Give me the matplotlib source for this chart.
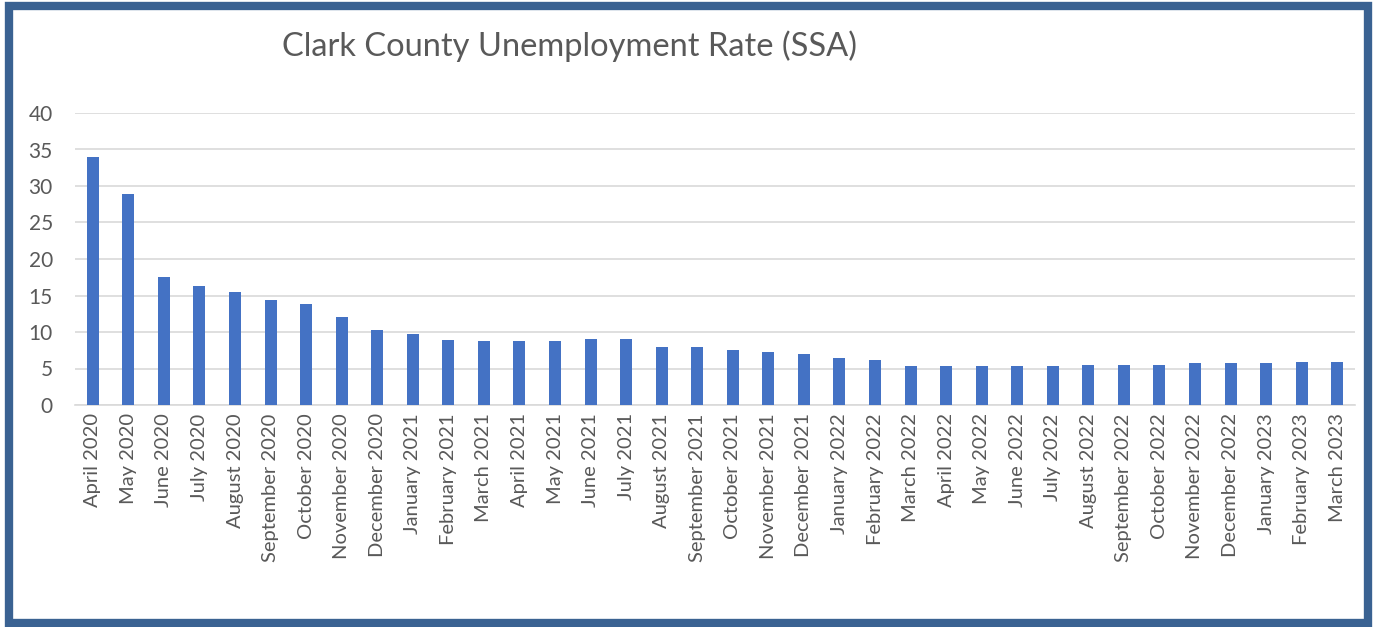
import matplotlib.pyplot as plt
from matplotlib.patches import Rectangle

months = ["April 2020", "May 2020", "June 2020", "July 2020", "August 2020",
          "September 2020", "October 2020", "November 2020", "December 2020",
          "January 2021", "February 2021", "March 2021", "April 2021", "May 2021",
          "June 2021", "July 2021", "August 2021", "September 2021", "October 2021",
          "November 2021", "December 2021", "January 2022", "February 2022",
          "March 2022", "April 2022", "May 2022", "June 2022", "July 2022",
          "August 2022", "September 2022", "October 2022", "November 2022",
          "December 2022", "January 2023", "February 2023", "March 2023"]
rates = [34.0, 28.9, 17.5, 16.3, 15.5, 14.4, 13.8, 12.0, 10.3, 9.7, 8.9, 8.7,
         8.8, 8.8, 9.0, 9.0, 8.0, 8.0, 7.6, 7.3, 7.0, 6.5, 6.1, 5.4,
         5.3, 5.3, 5.3, 5.3, 5.5, 5.5, 5.5, 5.7, 5.7, 5.7, 5.9, 5.9]

plt.rcParams['font.family'] = ['Lato', 'DejaVu Sans']
text_color = '#595959'

fig = plt.figure(figsize=(13.77, 6.27), dpi=100)
ax = fig.add_axes([75 / 1377, 1 - 405 / 627, 1280 / 1377, 292 / 627])

x = range(len(months))
ax.bar(x, rates, width=0.34, color='#4472C4', zorder=3)

ax.set_xlim(-0.5, len(months) - 0.5)
ax.set_ylim(0, 40)
ax.set_yticks(range(0, 41, 5))
ax.set_xticks(list(x))
ax.set_xticklabels(months, rotation=90)
ax.tick_params(axis='x', length=0, colors=text_color, labelsize=14.5, pad=6)
ax.tick_params(axis='y', length=0, colors=text_color, labelsize=15, pad=16)
ax.grid(axis='y', color='#D9D9D9', linewidth=1.2, zorder=0)
for side in ['top', 'right', 'left']:
    ax.spines[side].set_visible(False)
ax.spines['bottom'].set_color('#D9D9D9')
ax.spines['bottom'].set_linewidth(1.2)

fig.text(570 / 1377, 1 - 46 / 627, 'Clark County Unemployment Rate (SSA)',
         ha='center', va='center', fontsize=23.5, color=text_color)

# dark blue frame around the whole chart
fig.patches.append(Rectangle((9 / 1377, 4 / 627), 1359 / 1377, 617 / 627,
                             transform=fig.transFigure, fill=False,
                             edgecolor='#3A6292', linewidth=6))

fig.savefig('out.png', dpi=100)
